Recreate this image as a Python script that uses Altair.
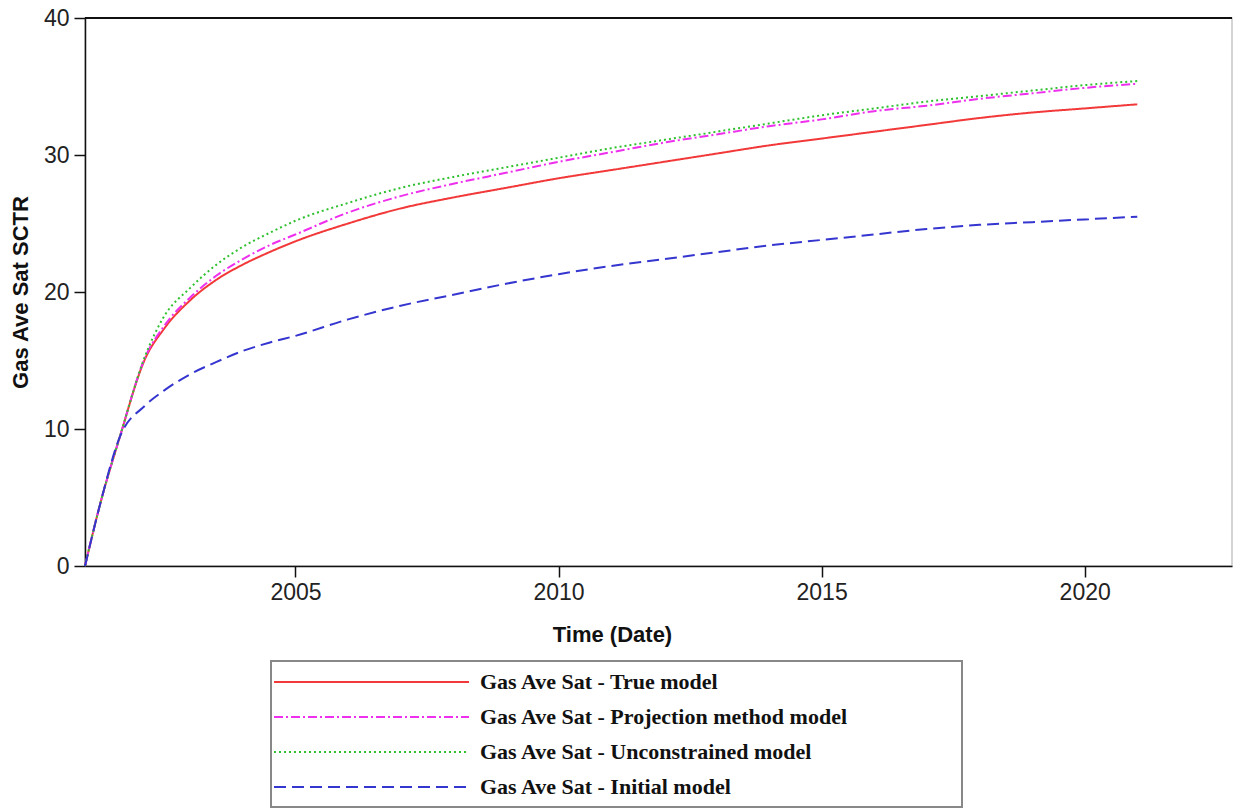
import altair as alt
import pandas as pd

# Time axis (decimal years) shared by every series
years = [2001.0, 2001.3, 2001.66, 2002.14, 2002.5, 2003.0, 2003.5, 2004.0, 2004.5,
         2005.0, 2006.0, 2007.0, 2008.0, 2009.0, 2010.0, 2011.0, 2012.0, 2013.0,
         2014.0, 2015.0, 2016.0, 2017.0, 2018.0, 2019.0, 2020.0, 2021.0]

true_model = [0.0, 4.7, 9.4, 15.1, 17.3, 19.4, 20.9, 22.0, 22.9,
              23.7, 25.0, 26.1, 26.9, 27.6, 28.3, 28.9, 29.5, 30.1,
              30.7, 31.2, 31.7, 32.2, 32.7, 33.1, 33.4, 33.7]

projection_model = [0.0, 4.7, 9.4, 15.2, 17.5, 19.6, 21.2, 22.4, 23.4,
                    24.2, 25.8, 27.0, 27.9, 28.7, 29.5, 30.2, 30.9, 31.5,
                    32.1, 32.6, 33.2, 33.6, 34.1, 34.5, 34.9, 35.2]

unconstrained_model = [0.0, 4.7, 9.4, 15.3, 18.2, 20.3, 22.0, 23.3, 24.3,
                       25.2, 26.5, 27.6, 28.4, 29.1, 29.8, 30.5, 31.1, 31.7,
                       32.3, 32.9, 33.4, 33.9, 34.3, 34.7, 35.1, 35.4]

initial_model = [0.0, 4.7, 9.4, 11.7, 12.8, 14.0, 14.9, 15.7, 16.3,
                 16.8, 18.0, 19.0, 19.8, 20.6, 21.3, 21.9, 22.4, 22.9,
                 23.4, 23.8, 24.2, 24.6, 24.9, 25.1, 25.3, 25.5]

series_names = [
    "Gas Ave Sat - True model",
    "Gas Ave Sat - Projection method model",
    "Gas Ave Sat - Unconstrained model",
    "Gas Ave Sat - Initial model",
]
series_values = [true_model, projection_model, unconstrained_model, initial_model]
series_colors = ["#F23838", "#EE30EE", "#2EC02E", "#3535D0"]
series_dashes = [[1, 0], [9, 3, 2, 3], [2, 3], [12, 6]]

x_ticks = [2005, 2010, 2015, 2020]
y_ticks = [0, 10, 20, 30, 40]

rows = []
for name, vals in zip(series_names, series_values):
    for yr, v in zip(years, vals):
        rows.append({"Time": yr, "Saturation": v, "Series": name})
df = pd.DataFrame(rows)

W, H = 1147, 548

lines = alt.Chart(df).mark_line(strokeWidth=2, interpolate="monotone").encode(
    x=alt.X(
        "Time:Q",
        scale=alt.Scale(domain=[2001.0, 2022.8], nice=False, zero=False),
        axis=alt.Axis(
            values=x_ticks, format="d", title="Time (Date)",
            titleX=527, titleY=58, titleAnchor="middle",
        ),
    ),
    y=alt.Y(
        "Saturation:Q",
        scale=alt.Scale(domain=[0, 40], nice=False),
        axis=alt.Axis(values=y_ticks, title="Gas Ave Sat SCTR",
                      titleX=-53, titleY=H / 2),
    ),
    color=alt.Color(
        "Series:N",
        scale=alt.Scale(domain=series_names, range=series_colors),
        legend=None,
    ),
    strokeDash=alt.StrokeDash(
        "Series:N",
        scale=alt.Scale(domain=series_names, range=series_dashes),
        legend=None,
    ),
)

# Black top edge of the plot frame
top_edge = alt.Chart(df).mark_rule(color="#111", strokeWidth=1.5).encode(
    x=alt.value(0), x2=alt.value(W), y=alt.value(0)
)

# Legend below the plot: framed box, one sample line and label per series
legend_box = alt.Chart(df).mark_rect(
    fill="white", fillOpacity=0, stroke="#888", strokeWidth=1.5
).encode(
    x=alt.value(186), x2=alt.value(877), y=alt.value(643), y2=alt.value(789)
)

legend_layers = []
row_y0, row_step = 664, 35
for i, (name, col, dash) in enumerate(zip(series_names, series_colors, series_dashes)):
    ry = row_y0 + i * row_step
    entry = pd.DataFrame({"Series": [name]})
    legend_layers.append(
        alt.Chart(entry).mark_rule(strokeWidth=2, color=col, strokeDash=dash).encode(
            x=alt.value(189), x2=alt.value(384), y=alt.value(ry)
        )
    )
    legend_layers.append(
        alt.Chart(entry).mark_text(
            align="left", baseline="middle", font="Liberation Serif",
            fontWeight="bold", fontSize=22, color="#111",
        ).encode(x=alt.value(395), y=alt.value(ry), text="Series:N")
    )

chart = alt.layer(legend_box, lines, top_edge, *legend_layers).properties(
    width=W, height=H,
    autosize=alt.AutoSizeParams(type="none"),
    padding={"left": 85, "top": 18, "right": 3, "bottom": 244},
    background="white",
).configure_view(
    stroke="#c8c8c8", strokeWidth=1.5
).configure_axis(
    domainColor="#111", domainWidth=1.5, tickColor="#111", tickWidth=1.5,
    tickSize=11, grid=False,
    labelFont="Liberation Sans", labelColor="#222", labelPadding=4,
    titleFont="Liberation Sans", titleFontWeight="bold", titleColor="#111",
    titleFontSize=22,
).configure_axisX(
    labelFontSize=23
).configure_axisY(
    labelFontSize=23, labelPadding=5
)

chart.save("out.html", embed_options={"renderer": "svg", "actions": False})
